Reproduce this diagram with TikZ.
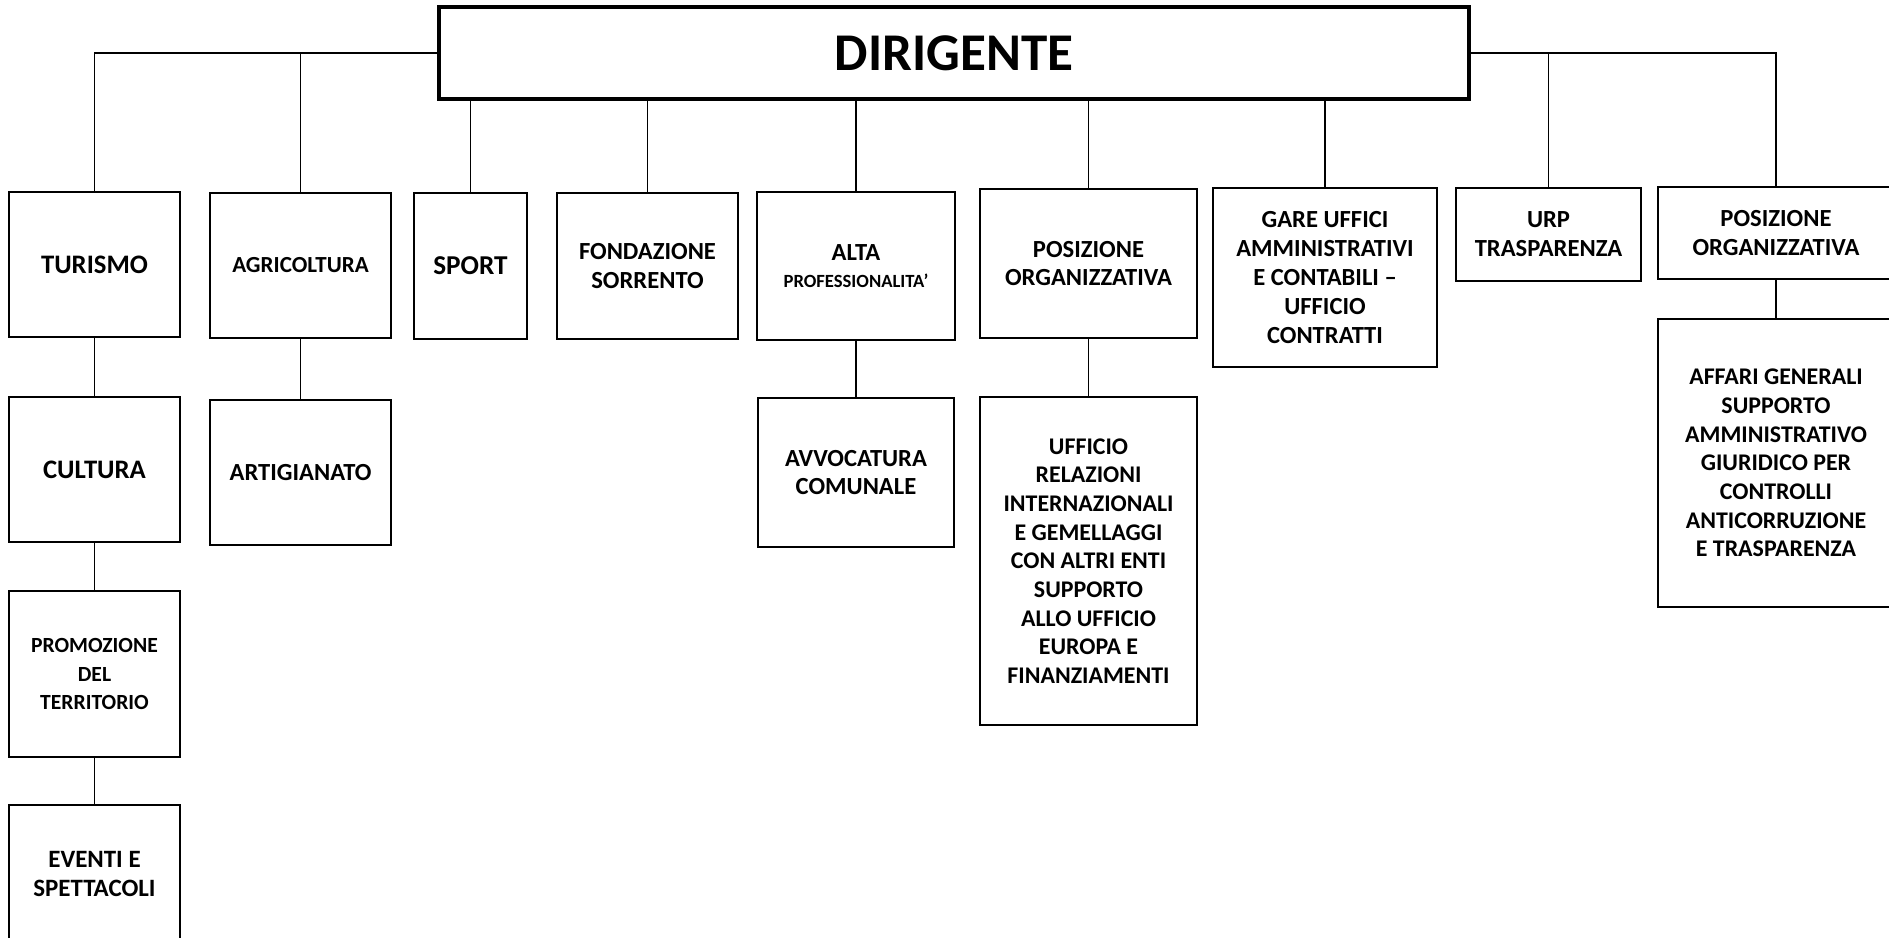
\documentclass[tikz,border=0pt]{standalone}
\usepackage{fontspec}
\setmainfont{Carlito}
\usetikzlibrary{positioning}

\begin{document}
\begin{tikzpicture}[x=0.02cm,y=-0.02cm,
    unit/.style={draw, line width=0.8pt, align=center, inner sep=1pt,
        font=\bfseries\fontsize{14}{16.4}\selectfont},
    bigtxt/.style={font=\bfseries\fontsize{15.2}{18}\selectfont},
    smalltxt/.style={font=\bfseries\fontsize{13.6}{16.3}\selectfont},
    headbox/.style={draw, line width=2.6pt, minimum width=20.6cm, minimum height=1.84cm,
        font=\bfseries\fontsize{30.2}{35}\selectfont},
    link/.style={line width=0.8pt}]
    \useasboundingbox (0,0) rectangle (1889,937);

    % Head
    \node[headbox] (dir) at (954,53) {DIRIGENTE};

    % First level
    \node[unit,bigtxt,minimum width=3.42cm,minimum height=2.9cm] (tur) at (94.5,264.5) {TURISMO};
    \node[unit,font=\bfseries\fontsize{13.1}{16}\selectfont,minimum width=3.62cm,minimum height=2.9cm] (agr) at (300.5,265.5) {AGRICOLTURA};
    \node[unit,font=\bfseries\fontsize{15.5}{18}\selectfont,minimum width=2.26cm,minimum height=2.92cm] (sport) at (470.5,266) {SPORT};
    \node[unit,minimum width=3.62cm,minimum height=2.92cm] (fond) at (647.5,266) {FONDAZIONE\\SORRENTO};
    \node[unit,minimum width=3.96cm,minimum height=2.96cm] (alta) at (856,266)
        {ALTA\\[-1.5pt]{\fontsize{10.6}{12}\selectfont PROFESSIONALITA’}};
    \node[unit,minimum width=4.34cm,minimum height=2.98cm] (posa) at (1088.5,263.5) {POSIZIONE\\ORGANIZZATIVA};
    \node[unit,minimum width=4.48cm,minimum height=3.58cm] (gare) at (1325,277.5)
        {GARE UFFICI\\AMMINISTRATIVI\\E CONTABILI –\\UFFICIO\\CONTRATTI};
    \node[unit,minimum width=3.7cm,minimum height=1.86cm] (urp) at (1548.5,234.5) {URP\\TRASPARENZA};
    \node[unit,minimum width=4.72cm,minimum height=1.84cm] (posb) at (1776,233) {POSIZIONE\\ORGANIZZATIVA};

    % Second level and below
    \node[unit,bigtxt,minimum width=3.42cm,minimum height=2.9cm] (cult) at (94.5,469.5) {CULTURA};
    \node[unit,minimum width=3.62cm,minimum height=2.9cm] (art) at (300.5,472.5) {ARTIGIANATO};
    \node[unit,minimum width=3.92cm,minimum height=2.98cm] (avv) at (856,472.5) {AVVOCATURA\\COMUNALE};
    \node[unit,smalltxt,minimum width=4.34cm,minimum height=6.56cm] (uff) at (1088.5,561)
        {UFFICIO\\RELAZIONI\\INTERNAZIONALI\\E GEMELLAGGI\\CON ALTRI ENTI\\SUPPORTO\\ALLO UFFICIO\\EUROPA E\\FINANZIAMENTI};
    \node[unit,smalltxt,minimum width=4.72cm,minimum height=5.76cm] (aff) at (1776,463)
        {AFFARI GENERALI\\SUPPORTO\\AMMINISTRATIVO\\GIURIDICO PER\\CONTROLLI\\ANTICORRUZIONE\\E TRASPARENZA};
    \node[unit,font=\bfseries\fontsize{12.3}{16}\selectfont,minimum width=3.42cm,minimum height=3.32cm] (prom) at (94.5,674)
        {PROMOZIONE\\DEL\\TERRITORIO};
    \node[unit,font=\bfseries\fontsize{14.2}{16.4}\selectfont,minimum width=3.42cm,minimum height=2.76cm] (ev) at (94.5,874)
        {EVENTI E\\SPETTACOLI};

    % Connectors from the head
    \draw[link] (dir.west) -| (tur.north);
    \draw[link] (dir.west) -| (agr.north);
    \draw[link] (dir.east) -| (urp.north);
    \draw[link] (dir.east) -| (posb.north);
    \draw[link] (sport.north) -- (sport.north |- dir.south);
    \draw[link] (fond.north) -- (fond.north |- dir.south);
    \draw[link] (alta.north) -- (alta.north |- dir.south);
    \draw[link] (posa.north) -- (posa.north |- dir.south);
    \draw[link] (gare.north) -- (gare.north |- dir.south);

    % Chains
    \draw[link] (tur) -- (cult);
    \draw[link] (cult) -- (prom);
    \draw[link] (prom) -- (ev);
    \draw[link] (agr) -- (art);
    \draw[link] (alta) -- (avv);
    \draw[link] (posa) -- (uff);
    \draw[link] (posb) -- (aff);
\end{tikzpicture}
\end{document}
